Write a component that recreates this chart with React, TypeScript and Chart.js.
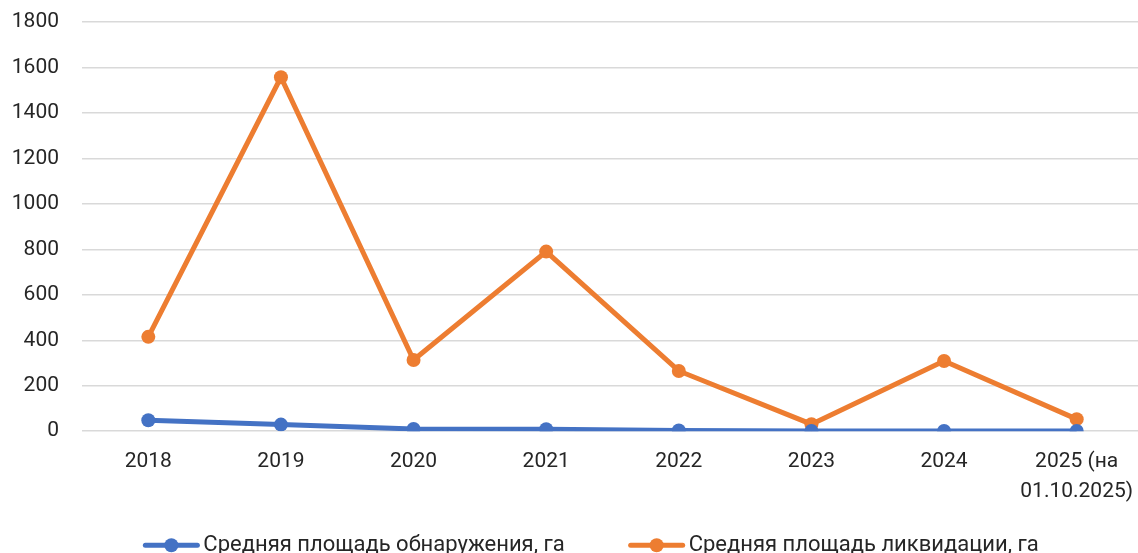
import React, { useEffect, useRef } from "react";
import { Chart, registerables } from "chart.js";

Chart.register(...registerables);

const categories: (string | string[])[] = ["2018", "2019", "2020", "2021", "2022", "2023", "2024", ["2025 (на", "01.10.2025)"]];
const detectionArea = [48, 29, 10, 9, 3, 1, 1, 1];
const liquidationArea = [415, 1557, 313, 790, 265, 31, 309, 53];
const seriesNames = ["Средняя площадь обнаружения, га", "Средняя площадь ликвидации, га"];
const yTicks = { min: 0, max: 1800, step: 200 };

const BLUE = "#4472C4";
const ORANGE = "#ED7D31";
const TEXT = "#262626";
const FONT = "Roboto, 'Noto Sans', sans-serif";
const FONT_SIZE = 21;
const LEGEND_FONT_SIZE = 22;
const VIEW_W = 1138;

const lineLegend = {
  id: "lineLegend",
  afterDraw(chart: any) {
    const ctx = chart.ctx as CanvasRenderingContext2D;
    const colors = [BLUE, ORANGE];
    const iconW = 56;
    const textGap = 4;
    const itemGap = 64;
    ctx.save();
    ctx.font = `${LEGEND_FONT_SIZE}px ${FONT}`;
    const widths = seriesNames.map((s) => ctx.measureText(s).width);
    const total = widths.reduce((a, w) => a + iconW + textGap + w, 0) + itemGap * (seriesNames.length - 1);
    let x = VIEW_W / 2 + 22 - total / 2;
    const y = chart.chartArea.bottom + 114;
    seriesNames.forEach((name, i) => {
      ctx.strokeStyle = colors[i];
      ctx.fillStyle = colors[i];
      ctx.lineWidth = 5;
      ctx.lineCap = "round";
      ctx.beginPath();
      ctx.moveTo(x + 2, y);
      ctx.lineTo(x + iconW - 2, y);
      ctx.stroke();
      ctx.beginPath();
      ctx.arc(x + iconW / 2, y, 7, 0, Math.PI * 2);
      ctx.fill();
      ctx.fillStyle = TEXT;
      ctx.textBaseline = "middle";
      ctx.textAlign = "left";
      ctx.fillText(name, x + iconW + textGap, y);
      x += iconW + textGap + widths[i] + itemGap;
    });
    ctx.restore();
  },
};

export default function App() {
  const ref = useRef<HTMLCanvasElement | null>(null);
  useEffect(() => {
    document.body.style.margin = "0";
    const chart = new Chart(ref.current!, {
      type: "line",
      data: {
        labels: categories,
        datasets: [
          {
            label: seriesNames[0],
            data: detectionArea,
            borderColor: BLUE,
            backgroundColor: BLUE,
            borderWidth: 5,
            pointRadius: 7,
            pointHoverRadius: 7,
            pointBorderWidth: 0,
            tension: 0,
          },
          {
            label: seriesNames[1],
            data: liquidationArea,
            borderColor: ORANGE,
            backgroundColor: ORANGE,
            borderWidth: 5,
            pointRadius: 7,
            pointHoverRadius: 7,
            pointBorderWidth: 0,
            tension: 0,
          },
        ],
      },
      options: {
        animation: false,
        responsive: false,
        maintainAspectRatio: false,
        layout: { padding: { top: 22, right: 0, left: 0, bottom: 31 } },
        scales: {
          x: {
            offset: true,
            grid: { display: false, drawTicks: false },
            border: { display: false },
            ticks: {
              color: TEXT,
              font: { family: FONT, size: FONT_SIZE, lineHeight: 1.4 },
              padding: 16,
              maxRotation: 0,
              autoSkip: false,
            },
          },
          y: {
            min: yTicks.min,
            max: yTicks.max,
            grid: { color: "#D9D9D9", lineWidth: 1.5, drawTicks: true, tickLength: 23, tickColor: "rgba(0,0,0,0)" },
            border: { display: false },
            ticks: {
              stepSize: yTicks.step,
              color: TEXT,
              font: { family: FONT, size: FONT_SIZE },
              padding: 0,
              callback: (v: any) => String(v),
            },
            afterFit: (scale: any) => {
              scale.width = 82;
            },
          },
        },
        plugins: {
          tooltip: { enabled: false },
          legend: { display: false },
        },
      },
      plugins: [lineLegend],
    });
    return () => chart.destroy();
  }, []);
  return (
    <div style={{ position: "relative", width: VIEW_W, height: 553, overflow: "hidden", background: "#fff" }}>
      <canvas ref={ref} width={1150} height={553} style={{ display: "block" }} />
    </div>
  );
}
